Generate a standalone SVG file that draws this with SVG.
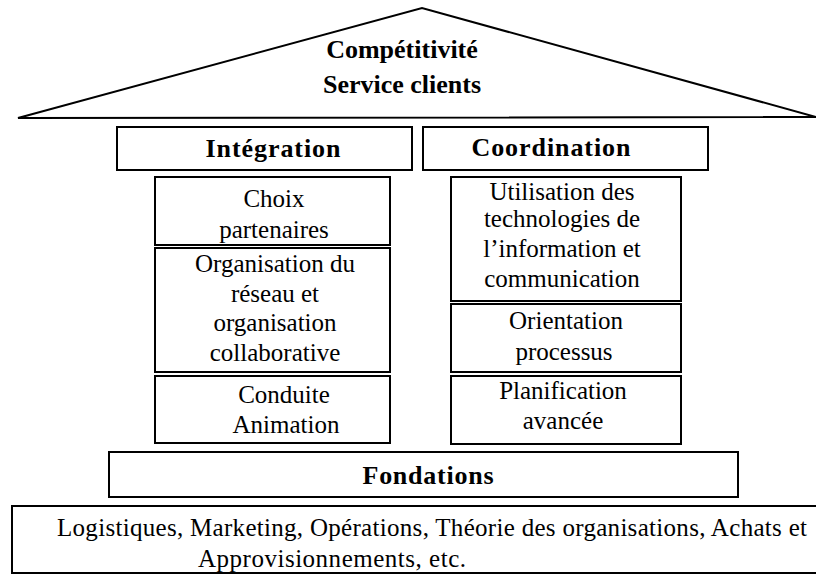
<svg xmlns="http://www.w3.org/2000/svg" width="816" height="575" viewBox="0 0 816 575">
<style>
.b{fill:#fff;stroke:#000;stroke-width:2}
text{font-family:"Times New Roman","Liberation Serif","DejaVu Serif",serif;fill:#000;text-anchor:middle}
.t{font-size:25px}
.h{font-size:26px;font-weight:bold}
</style>
<rect width="816" height="575" fill="#fff"/>
<g id="roof">
<polygon class="b" points="18,118 422,8 816,117"/>
<text class="h" x="402" y="58" font-size="28">Compétitivité</text>
<text class="h" x="402" y="93" font-size="28">Service clients</text>
</g>
<g id="connectors"></g>
<g id="integration">
<rect class="b" x="117" y="127" width="295" height="43"/>
<text class="h" x="273" y="157" textLength="135" lengthAdjust="spacing">Intégration</text>
</g>
<g id="coordination">
<rect class="b" x="423" y="127" width="285" height="43"/>
<text class="h" x="551" y="156" textLength="159" lengthAdjust="spacing">Coordination</text>
</g>
<g id="choix">
<rect class="b" x="155" y="177" width="235" height="68"/>
<text class="t" x="274" y="207">Choix</text>
<text class="t" x="274" y="238">partenaires</text>
</g>
<g id="organisation">
<rect class="b" x="155" y="248" width="235" height="124"/>
<text class="t" x="275" y="272">Organisation du</text>
<text class="t" x="275" y="302">réseau et</text>
<text class="t" x="275" y="331">organisation</text>
<text class="t" x="275" y="361">collaborative</text>
</g>
<g id="conduite">
<rect class="b" x="155" y="376" width="235" height="67"/>
<text class="t" x="284" y="403">Conduite</text>
<text class="t" x="286" y="433">Animation</text>
</g>
<g id="utilisation">
<rect class="b" x="451" y="177" width="230" height="124"/>
<text class="t" x="562" y="200">Utilisation des</text>
<text class="t" x="562" y="227">technologies de</text>
<text class="t" x="562" y="257">l’information et</text>
<text class="t" x="562" y="287">communication</text>
</g>
<g id="orientation">
<rect class="b" x="451" y="304" width="230" height="68"/>
<text class="t" x="566" y="329">Orientation</text>
<text class="t" x="564" y="360">processus</text>
</g>
<g id="planification">
<rect class="b" x="451" y="376" width="230" height="68"/>
<text class="t" x="563" y="399">Planification</text>
<text class="t" x="563" y="429">avancée</text>
</g>
<g id="fondations">
<rect class="b" x="109" y="452" width="629" height="45"/>
<text class="h" x="428" y="484" textLength="131" lengthAdjust="spacing">Fondations</text>
</g>
<g id="disciplines">
<rect class="b" x="12" y="506" width="810" height="67"/>
<text class="t" x="432" y="536" font-size="23" textLength="750" lengthAdjust="spacing">Logistiques, Marketing, Opérations, Théorie des organisations,  Achats et</text>
<text class="t" x="332" y="567" font-size="23" textLength="268" lengthAdjust="spacing">Approvisionnements, etc.</text>
</g>
</svg>
